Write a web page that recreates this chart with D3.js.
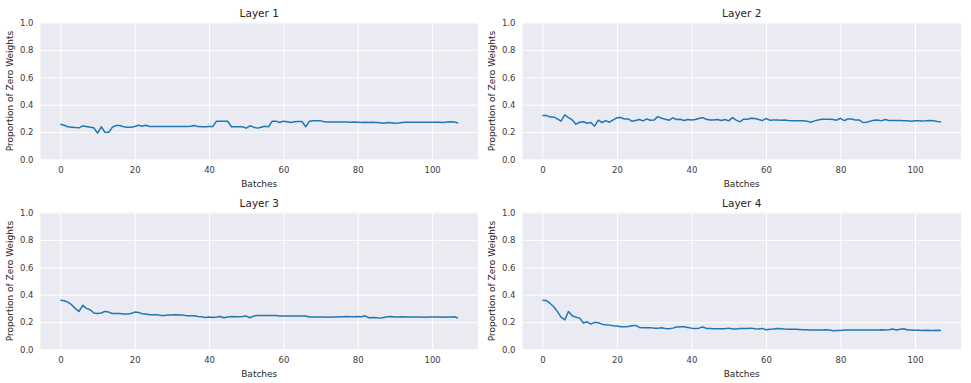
<!DOCTYPE html>
<html><head><meta charset="utf-8">
<script src="https://cdn.jsdelivr.net/npm/d3@7"></script>
<style>
html,body{margin:0;padding:0;background:#fff;}
svg{display:block;font-family:"DejaVu Sans",sans-serif;}
</style></head><body>
<svg id="chart" width="971" height="383"></svg>
<script>
const titles = ["Layer 1", "Layer 2", "Layer 3", "Layer 4"];
const xTicks = [0, 20, 40, 60, 80, 100];
const yTicks = [0.0, 0.2, 0.4, 0.6, 0.8, 1.0];
const xLabel = "Batches";
const yLabel = "Proportion of Zero Weights";

const layer1 = [0.257,0.250,0.239,0.236,0.233,0.231,0.245,0.241,0.236,0.231,0.193,0.239,0.198,0.198,0.236,0.248,0.248,0.239,0.236,0.236,
0.241,0.250,0.243,0.250,0.241,0.241,0.240,0.240,0.241,0.240,0.241,0.241,0.240,0.241,0.241,0.242,0.248,0.240,0.239,0.239,
0.240,0.240,0.280,0.280,0.280,0.279,0.239,0.239,0.239,0.239,0.229,0.246,0.236,0.229,0.236,0.243,0.239,0.280,0.280,0.270,
0.280,0.275,0.270,0.275,0.277,0.277,0.239,0.280,0.282,0.282,0.282,0.275,0.273,0.274,0.273,0.274,0.274,0.273,0.272,0.273,
0.272,0.270,0.272,0.270,0.271,0.270,0.268,0.265,0.270,0.269,0.265,0.267,0.270,0.271,0.272,0.271,0.271,0.272,0.271,0.272,
0.272,0.272,0.271,0.270,0.273,0.275,0.273,0.267];
const layer2 = [0.321,0.321,0.311,0.311,0.296,0.280,0.325,0.306,0.289,0.258,0.272,0.275,0.265,0.270,0.243,0.287,0.270,0.284,0.272,0.289,
0.304,0.306,0.296,0.296,0.280,0.284,0.292,0.282,0.296,0.287,0.289,0.313,0.301,0.294,0.287,0.304,0.292,0.294,0.284,0.292,
0.289,0.292,0.299,0.306,0.294,0.289,0.289,0.292,0.284,0.292,0.282,0.306,0.287,0.275,0.294,0.294,0.301,0.299,0.292,0.284,
0.299,0.287,0.289,0.289,0.287,0.289,0.284,0.282,0.282,0.282,0.282,0.280,0.272,0.282,0.289,0.294,0.294,0.294,0.292,0.287,
0.301,0.284,0.296,0.296,0.289,0.289,0.270,0.272,0.280,0.287,0.289,0.282,0.292,0.285,0.284,0.284,0.284,0.283,0.282,0.280,
0.282,0.282,0.281,0.282,0.284,0.282,0.278,0.275];
const layer3 = [0.359,0.356,0.346,0.327,0.300,0.278,0.322,0.300,0.290,0.266,0.263,0.266,0.278,0.273,0.263,0.263,0.263,0.259,0.259,0.263,
0.273,0.271,0.261,0.259,0.254,0.254,0.254,0.249,0.249,0.251,0.251,0.254,0.251,0.251,0.246,0.246,0.246,0.241,0.239,0.234,
0.237,0.234,0.237,0.241,0.232,0.237,0.241,0.239,0.239,0.241,0.244,0.232,0.244,0.249,0.249,0.249,0.249,0.249,0.248,0.244,
0.245,0.244,0.245,0.244,0.245,0.244,0.244,0.237,0.237,0.237,0.238,0.237,0.236,0.237,0.238,0.239,0.239,0.240,0.239,0.239,
0.240,0.239,0.246,0.232,0.234,0.232,0.229,0.234,0.239,0.241,0.237,0.237,0.239,0.237,0.237,0.238,0.237,0.238,0.236,0.237,
0.237,0.238,0.237,0.236,0.238,0.237,0.239,0.229];
const layer4 = [0.360,0.358,0.338,0.314,0.278,0.236,0.217,0.278,0.246,0.236,0.229,0.193,0.202,0.185,0.198,0.195,0.185,0.181,0.178,0.173,
0.171,0.166,0.166,0.168,0.173,0.176,0.161,0.159,0.159,0.159,0.156,0.156,0.159,0.154,0.152,0.156,0.164,0.166,0.166,0.161,
0.156,0.154,0.156,0.164,0.154,0.154,0.152,0.152,0.152,0.152,0.156,0.149,0.149,0.154,0.154,0.154,0.156,0.152,0.149,0.154,
0.144,0.147,0.149,0.154,0.152,0.149,0.147,0.147,0.147,0.146,0.145,0.144,0.143,0.142,0.142,0.143,0.144,0.142,0.137,0.139,
0.139,0.142,0.142,0.142,0.142,0.142,0.142,0.142,0.142,0.142,0.142,0.144,0.142,0.144,0.149,0.142,0.147,0.152,0.142,0.142,
0.140,0.141,0.139,0.140,0.139,0.139,0.140,0.138];

const series = [layer1, layer2, layer3, layer4];

const svg = d3.select("#chart");
const panels = [
  {x0: 40.5, x1: 478, y0: 22.5, y1: 159.5},
  {x0: 522.5, x1: 961, y0: 22.5, y1: 159.5},
  {x0: 40.5, x1: 478, y0: 212.5, y1: 349.5},
  {x0: 522.5, x1: 961, y0: 212.5, y1: 349.5}
];

series.forEach((data, i) => {
  const p = panels[i];
  const n = data.length - 1;
  const m = n * 0.05;
  const x = d3.scaleLinear().domain([-m, n + m]).range([p.x0, p.x1]);
  const y = d3.scaleLinear().domain([0, 1]).range([p.y1, p.y0]);
  const g = svg.append("g");
  g.append("rect").attr("x", p.x0).attr("y", p.y0)
    .attr("width", p.x1 - p.x0).attr("height", p.y1 - p.y0).attr("fill", "#EAEAF2");

  const xa = g.append("g").attr("transform", `translate(0,${p.y1})`)
    .call(d3.axisBottom(x).tickValues(xTicks).tickSize(-(p.y1 - p.y0)).tickPadding(7).tickFormat(d3.format("d")));
  const ya = g.append("g").attr("transform", `translate(${p.x0},0)`)
    .call(d3.axisLeft(y).tickValues(yTicks).tickSize(-(p.x1 - p.x0)).tickPadding(7).tickFormat(d3.format(".1f")));
  [xa, ya].forEach(a => {
    a.select(".domain").remove();
    a.selectAll(".tick line").attr("stroke", "#fff").attr("stroke-width", 1);
    a.selectAll(".tick text").attr("fill", "#3a3a3a").style("font-size", "8.5px").style("font-family", "DejaVu Sans");
  });

  const line = d3.line().x((d, k) => x(k)).y(d => y(d));
  g.append("path").datum(data).attr("d", line).attr("fill", "none")
    .attr("stroke", "#1f77b4").attr("stroke-width", 1.5).attr("stroke-linejoin", "round");

  g.append("text").attr("x", (p.x0 + p.x1) / 2).attr("y", p.y0 - 5.5)
    .attr("text-anchor", "middle").attr("fill", "#262626").style("font-size", "10.5px").text(titles[i]);
  g.append("text").attr("x", (p.x0 + p.x1) / 2).attr("y", p.y1 + 27)
    .attr("text-anchor", "middle").attr("fill", "#262626").style("font-size", "9px").text(xLabel);
  g.append("text").attr("transform", `translate(${p.x0 - 28},${(p.y0 + p.y1) / 2}) rotate(-90)`)
    .attr("text-anchor", "middle").attr("fill", "#262626").style("font-size", "9px").text(yLabel);
});
</script>
</body></html>
